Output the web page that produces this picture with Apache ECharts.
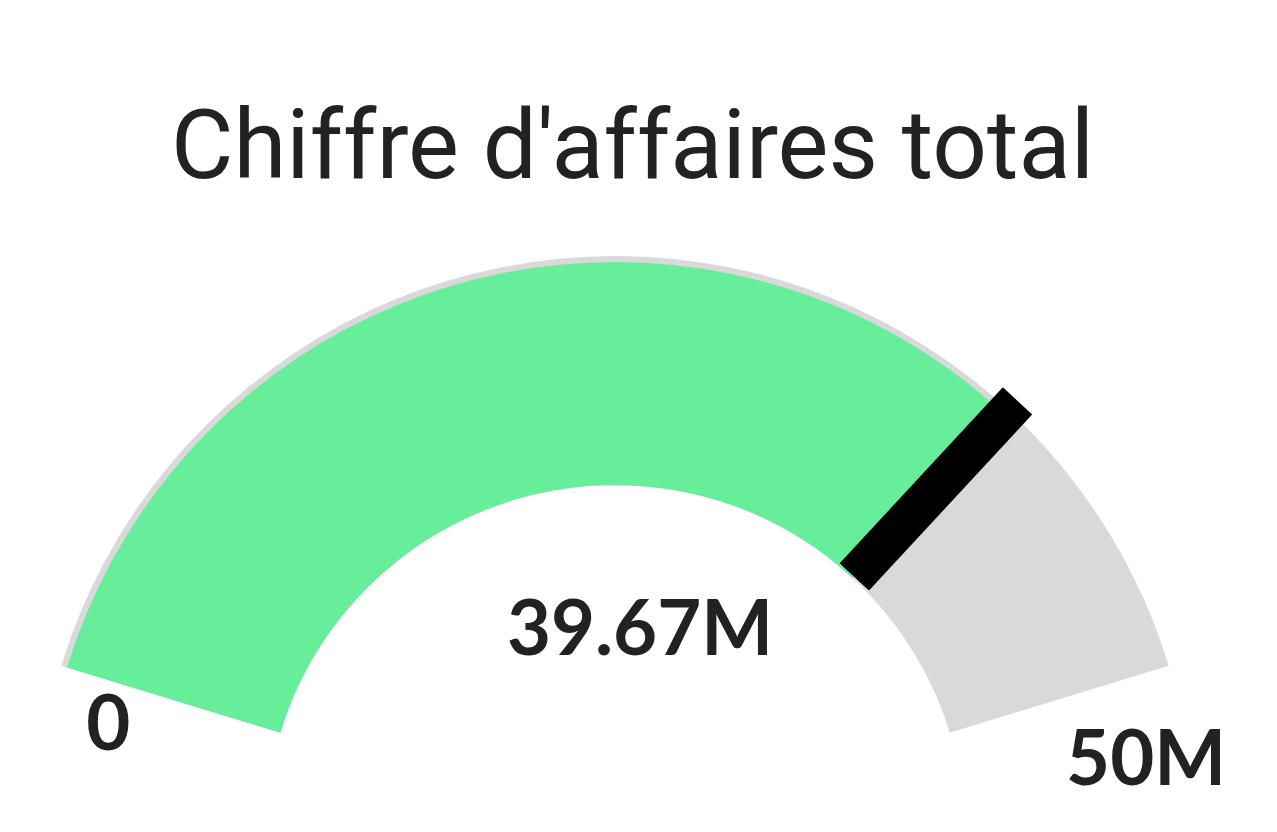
<!DOCTYPE html>
<html>
<head>
<meta charset="utf-8">
<script src="https://cdn.jsdelivr.net/npm/echarts@6/dist/echarts.min.js"></script>
<style>
  html, body { margin: 0; padding: 0; background: #fff; }
  #chart { width: 1277px; height: 832px; }
</style>
</head>
<body>
<div id="chart"></div>
<script>
const titleText = "Chiffre d'affaires total"
const gaugeMin = 0
const gaugeMax = 50000000
const gaugeValue = 39670000

const fmtM = v => v === 0 ? '0' : (v / 1e6).toFixed(v % 1e6 === 0 ? 0 : 2) + 'M'

const chart = echarts.init(document.getElementById('chart'))

const center = [615, 835]
const startAngle = 163
const endAngle = 17

// marker only covers the outer part of the pointer (the band)
const markerColor = new echarts.graphic.LinearGradient(0, 0, 0, 1, [
  { offset: 0, color: '#000000' },
  { offset: 0.405, color: '#000000' },
  { offset: 0.406, color: 'rgba(0,0,0,0)' },
  { offset: 1, color: 'rgba(0,0,0,0)' }
])

const labelFont = { fontFamily: 'Lato', fontWeight: 'bold', fontSize: 76, color: '#222222' }

const base = {
  type: 'gauge',
  center: center,
  startAngle: startAngle,
  endAngle: endAngle,
  min: gaugeMin,
  max: gaugeMax,
  splitNumber: 1,
  splitLine: { show: false, length: 0 },
  axisTick: { show: false },
  anchor: { show: false },
  title: { show: false }
}

const option = {
  backgroundColor: '#ffffff',
  animation: false,
  title: {
    text: titleText,
    left: 166,
    top: 101,
    textStyle: { fontFamily: 'Roboto', fontWeight: 'normal', fontSize: 96, color: '#222222' }
  },
  series: [
    {
      // gray track + min label
      ...base,
      z: 1,
      radius: 579,
      axisLine: { lineStyle: { width: 229, color: [[1, '#d9d9d9']] } },
      axisLabel: {
        distance: 16,
        formatter: v => v === gaugeMin ? '{a|' + fmtM(v) + '}' : '',
        rich: { a: { ...labelFont, padding: [104, 0, 0, 0] } }
      },
      pointer: { show: false },
      detail: { show: false },
      data: [{ value: gaugeMin }]
    },
    {
      // green progress + value
      ...base,
      z: 2,
      radius: 573,
      axisLine: { show: false },
      progress: { show: true, width: 223, itemStyle: { color: '#67ee9a' } },
      axisLabel: { show: false },
      pointer: { show: false },
      detail: {
        offsetCenter: [25, -205],
        formatter: v => fmtM(v),
        fontFamily: 'Lato',
        fontWeight: 'bold',
        fontSize: 76,
        color: '#222222'
      },
      data: [{ value: gaugeValue }]
    },
    {
      // black marker + max label
      ...base,
      z: 3,
      radius: 579,
      axisLine: { show: false },
      axisLabel: {
        distance: -70,
        formatter: v => v === gaugeMax ? '{b|' + fmtM(v) + '}' : '',
        rich: { b: { ...labelFont, padding: [224, 0, 0, 0] } }
      },
      pointer: {
        show: true,
        icon: 'rect',
        length: 592,
        width: 40,
        itemStyle: { color: markerColor }
      },
      detail: { show: false },
      data: [{ value: gaugeValue }]
    }
  ]
}

chart.setOption(option)
window.addEventListener('resize', () => { chart.resize() })
</script>
</body>
</html>
